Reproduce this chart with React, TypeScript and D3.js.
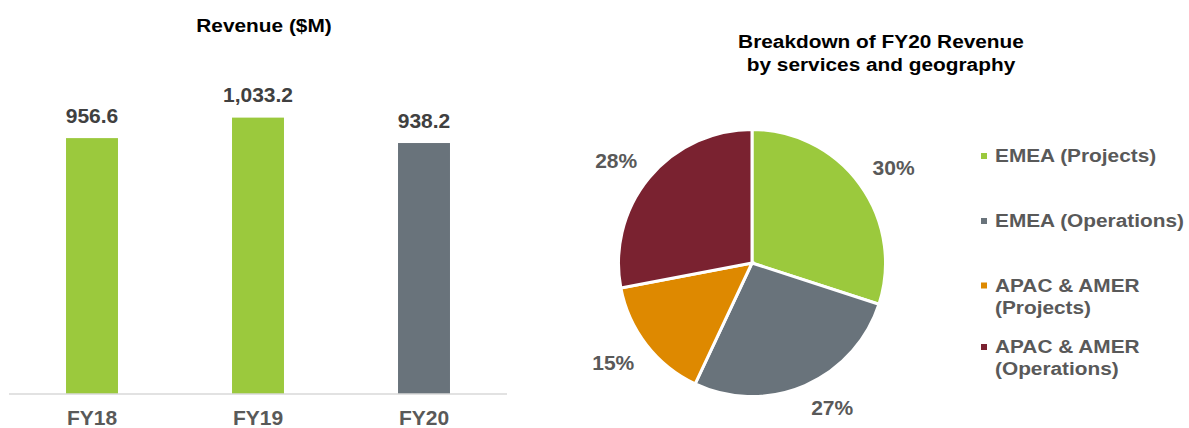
import React from "react";
import * as d3 from "d3";

const years = ["FY18", "FY19", "FY20"];
const revenue = [956.6, 1033.2, 938.2];
const barColors = ["#9BC93D", "#9BC93D", "#69737B"];

const segments = [
  "EMEA (Projects)",
  "EMEA (Operations)",
  "APAC & AMER (Projects)",
  "APAC & AMER (Operations)",
];
const shares = [30, 27, 15, 28];
const segmentColors = ["#9BC93D", "#69737B", "#DE8900", "#7A2230"];
const legendLines = [
  ["EMEA (Projects)"],
  ["EMEA (Operations)"],
  ["APAC & AMER", "(Projects)"],
  ["APAC & AMER", "(Operations)"],
];

const FONT = "'Liberation Sans', Arial, Helvetica, sans-serif";

function Stretched({ x, y, size, fill, anchor, children }: any) {
  return (
    <g transform={`translate(${x},${y}) scale(1.12,1)`}>
      <text
        x={0}
        y={0}
        fontFamily={FONT}
        fontWeight="bold"
        fontSize={size}
        fill={fill}
        textAnchor={anchor || "start"}
      >
        {children}
      </text>
    </g>
  );
}

export default function App() {
  const W = 1189;
  const H = 428;

  // Bar chart
  const x = d3.scaleBand<string>().domain(years).range([9, 507]).paddingInner(0.687).paddingOuter(0.3435);
  const y = d3.scaleLinear().domain([0, 1200]).range([394, 73]);
  const fmt = d3.format(",.1f");

  // Pie chart
  const cx = 752;
  const cy = 263;
  const r = 133.5;
  const pie = d3.pie<number>().sort(null).value((d) => d)(shares);
  const arc = d3.arc<d3.PieArcDatum<number>>().innerRadius(0).outerRadius(r);
  const labelArc = d3.arc<d3.PieArcDatum<number>>().innerRadius(149).outerRadius(149);
  const labelFont = 21;
  const boxW = 42;
  const boxH = 15.5;

  const legendBaselines = [162, 227, 291.5, 353];

  return (
    <svg
      width={W}
      height={H}
      viewBox={`0 0 ${W} ${H}`}
      style={{ position: "absolute", left: 0, top: 0, display: "block", background: "#fff" }}
    >
      <rect x={0} y={0} width={W} height={H} fill="#fff" />
      {/* Bar chart title */}
      <Stretched x={264} y={31.5} size={18.6} fill="#000" anchor="middle">
        Revenue ($M)
      </Stretched>
      {years.map((yr, i) => (
        <g key={yr}>
          <rect
            x={x(yr)}
            y={y(revenue[i])}
            width={x.bandwidth()}
            height={y(0) - y(revenue[i])}
            fill={barColors[i]}
          />
          <text
            x={(x(yr) as number) + x.bandwidth() / 2}
            y={y(revenue[i]) - 15.5}
            textAnchor="middle"
            fontFamily={FONT}
            fontWeight="bold"
            fontSize={21}
            fill="#404040"
          >
            {fmt(revenue[i])}
          </text>
          <text
            x={(x(yr) as number) + x.bandwidth() / 2}
            y={425}
            textAnchor="middle"
            fontFamily={FONT}
            fontWeight="bold"
            fontSize={21}
            fill="#595959"
          >
            {yr}
          </text>
        </g>
      ))}
      <line x1={9} x2={507} y1={y(0)} y2={y(0)} stroke="#D9D9D9" strokeWidth={1.5} />

      {/* Pie title */}
      <Stretched x={881} y={48.3} size={18.6} fill="#000" anchor="middle">
        Breakdown of FY20 Revenue
      </Stretched>
      <Stretched x={881} y={70.5} size={18.6} fill="#000" anchor="middle">
        by services and geography
      </Stretched>

      <g transform={`translate(${cx},${cy})`}>
        {pie.map((p, i) => (
          <path key={i} d={arc(p) as string} fill={segmentColors[i]} stroke="#fff" strokeWidth={3} strokeLinejoin="miter" />
        ))}
        {pie.map((p, i) => {
          const [px, py] = labelArc.centroid(p);
          const bx = px + (px >= 0 ? boxW / 2 : -boxW / 2);
          const by = py + (py >= 0 ? boxH / 2 : -boxH / 2);
          return (
            <text
              key={"l" + i}
              x={bx}
              y={by + 7.5}
              textAnchor="middle"
              fontFamily={FONT}
              fontWeight="bold"
              fontSize={labelFont}
              fill="#595959"
            >
              {shares[i]}%
            </text>
          );
        })}
      </g>

      {/* Legend */}
      {segments.map((s, i) => (
        <g key={s}>
          <rect x={981} y={legendBaselines[i] - 9} width={6} height={6} fill={segmentColors[i]} />
          {legendLines[i].map((ln, j) => (
            <Stretched key={j} x={995} y={legendBaselines[i] + j * 22} size={18.6} fill="#595959">
              {ln}
            </Stretched>
          ))}
        </g>
      ))}
    </svg>
  );
}
